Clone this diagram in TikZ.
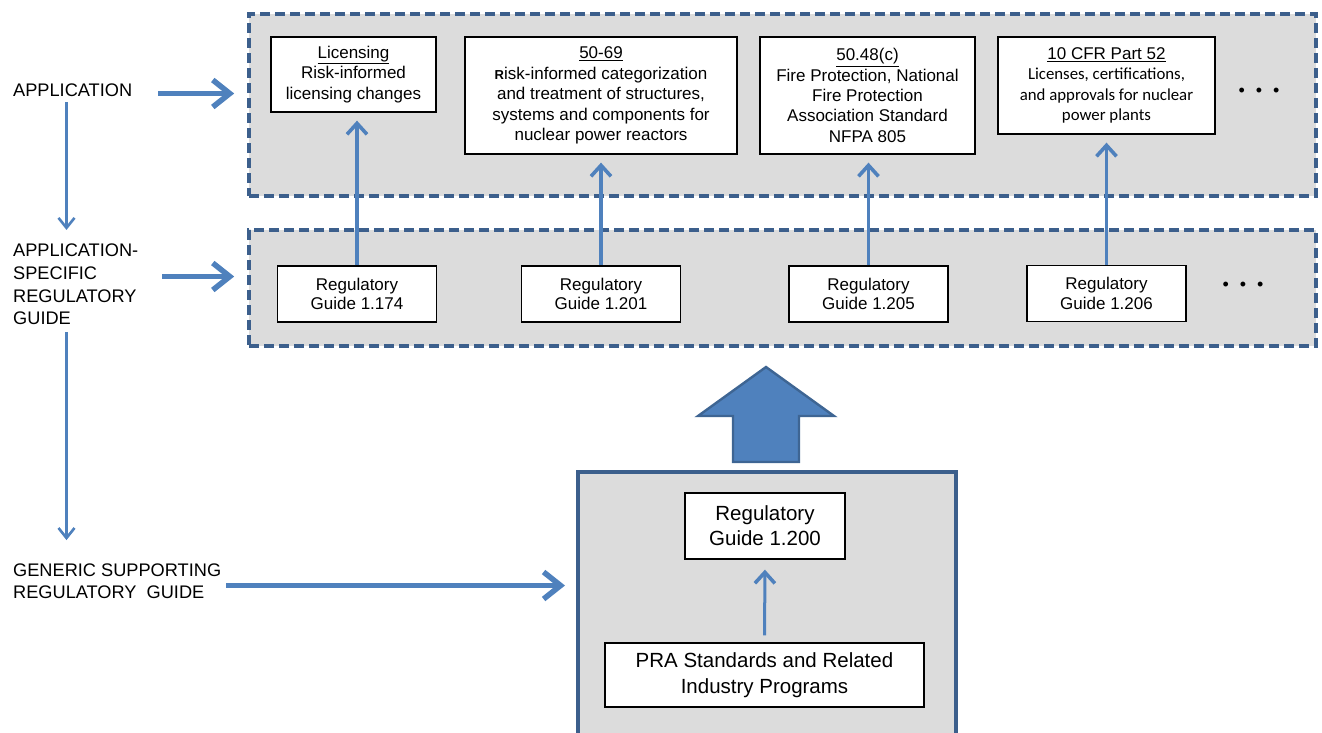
\documentclass[tikz,border=0pt]{standalone}
\usepackage{fontspec}
\setmainfont{Liberation Sans}
\newfontfamily\calfont{Carlito}
\usetikzlibrary{arrows.meta}
\usetikzlibrary{positioning}

\definecolor{arrowblue}{HTML}{4F81BD}
\definecolor{frameblue}{HTML}{3C5F8C}
\definecolor{panelgray}{HTML}{DCDCDC}

\newcommand{\calline}{\calfont\fontsize{16.8}{20.3}\selectfont}

\tikzset{
  panel/.style={fill=panelgray,draw=frameblue,line width=3.6pt,dash pattern=on 10pt off 5pt},
  appbox/.style={draw=black,fill=white,line width=1.3pt,align=center,inner sep=0pt,
    font=\fontsize{17}{20.4}\selectfont},
  guidebox/.style={appbox,minimum width=159,minimum height=56,font=\fontsize{17}{19.5}\selectfont},
  levellabel/.style={anchor=west,align=left,inner sep=0pt,font=\fontsize{18.2}{22.6}\selectfont},
  thinarrow/.style={draw=arrowblue,line width=3.6pt,-{Straight Barb[length=11pt,width=20pt,line width=3.6pt]}},
  thickarrow/.style={draw=arrowblue,line width=5.8pt,-{Straight Barb[length=17pt,width=27pt,line width=5.5pt]}},
  sidearrow/.style={draw=arrowblue,line width=2.6pt,-{Straight Barb[length=10pt,width=16pt,line width=2.6pt]}},
  moredots/.style={inner sep=0pt,font=\fontsize{18}{18}\selectfont}
}

\begin{document}
\begin{tikzpicture}[x=1pt,y=-1pt]
\useasboundingbox (0,0) rectangle (1322,732);

% panels
\node[panel,minimum width=1067,minimum height=182,inner sep=0pt] (apppanel) at (782.5,105) {};
\node[panel,minimum width=1067,minimum height=116,inner sep=0pt] (guidepanel) at (782.5,288) {};
\draw[fill=panelgray,draw=frameblue,line width=3.6pt] (578,745) -- (578,472) -- (956,472) -- (956,745);
\coordinate (genpanel) at (578,585.5);

% applications
\node[appbox,minimum width=165,minimum height=75] (lic) at (353.5,74.5)
  {\underline{Licensing}\\Risk-informed\\licensing changes};
\node[appbox,minimum width=272,minimum height=117] (sixtynine) at (601,95.5)
  {\underline{50-69}\\\textbf{\fontsize{13}{13}\selectfont R}isk-informed categorization\\and treatment of structures,\\systems and components for\\nuclear power reactors};
\node[appbox,minimum width=215,minimum height=117] (fire) at (867.5,95.5)
  {\underline{50.48(c)}\\Fire Protection, National\\Fire Protection\\Association Standard\\NFPA 805};
\node[appbox,minimum width=217,minimum height=97] (partfiftytwo) at (1106.5,85.5)
  {\underline{10 CFR Part 52}\\\calline Licenses, certifications,\\\calline and approvals for nuclear\\\calline power plants};
\node[moredots] (appdots) at (1259,92) {\textbullet\hspace{11pt}\textbullet\hspace{11pt}\textbullet};

% application-specific guides
\node[guidebox] (rg174) at (357,294) {Regulatory\\Guide 1.174};
\node[guidebox] (rg201) at (601,294) {Regulatory\\Guide 1.201};
\node[guidebox] (rg205) at (868.5,294) {Regulatory\\Guide 1.205};
\node[guidebox] (rg206) at (1106.5,293.5) {Regulatory\\Guide 1.206};
\node[moredots] (guidedots) at (1243,286) {\textbullet\hspace{11pt}\textbullet\hspace{11pt}\textbullet};

\draw[thinarrow,shorten >=8pt] (rg174.north) -- (rg174.north |- lic.south);
\draw[thinarrow,shorten >=8pt] (rg201.north) -- (rg201.north |- sixtynine.south);
\draw[thinarrow,shorten >=8pt] (rg205.north) -- (rg205.north |- fire.south);
\draw[thinarrow,shorten >=8pt] (rg206.north) -- (rg206.north |- partfiftytwo.south);

% big arrow
\draw[fill=arrowblue,draw=arrowblue!78!black,line width=2.4pt,line join=miter]
  (766,367) -- (834,416) -- (799,416) -- (799,462) -- (733,462) -- (733,416) -- (698,416) -- cycle;

% generic guide
\node[appbox,minimum width=160,minimum height=66,font=\fontsize{20.5}{25}\selectfont] (rg200) at (765,526) {Regulatory\\Guide 1.200};
\node[appbox,minimum width=319,minimum height=64,font=\fontsize{20.5}{26}\selectfont] (pra) at (764.5,675) {PRA Standards and Related\\Industry Programs};
\draw[thinarrow,line width=3pt,shorten <=7pt,shorten >=10pt] (pra.north) -- (rg200.south);

% level labels
\node[levellabel] (applabel) at (13,90.5) {APPLICATION};
\node[levellabel] (speclabel) at (13,284.5) {APPLICATION-\\SPECIFIC\\REGULATORY\\GUIDE};
\node[levellabel,font=\fontsize{18.2}{22}\selectfont] (genlabel) at (13,581.7) {GENERIC SUPPORTING\\REGULATORY\ \ GUIDE};
\coordinate (axis) at (66.5,0);

\draw[thickarrow,shorten <=26pt,shorten >=13pt] ([yshift=-3pt]applabel.east) -- ([yshift=-3pt]applabel.east -| apppanel.west);
\draw[thickarrow,shorten <=24pt,shorten >=13pt] ([yshift=8pt]speclabel.east) -- ([yshift=8pt]speclabel.east -| guidepanel.west);
\draw[thickarrow,shorten <=5pt,shorten >=13pt] (genlabel.east |- genpanel) -- (genpanel);
\draw[sidearrow,shorten <=5pt,shorten >=14pt] (axis |- applabel.south) -- (axis |- speclabel.north);
\draw[sidearrow,shorten <=7pt,shorten >=24pt] (axis |- speclabel.south) -- (axis |- genlabel.north);

\end{tikzpicture}
\end{document}
